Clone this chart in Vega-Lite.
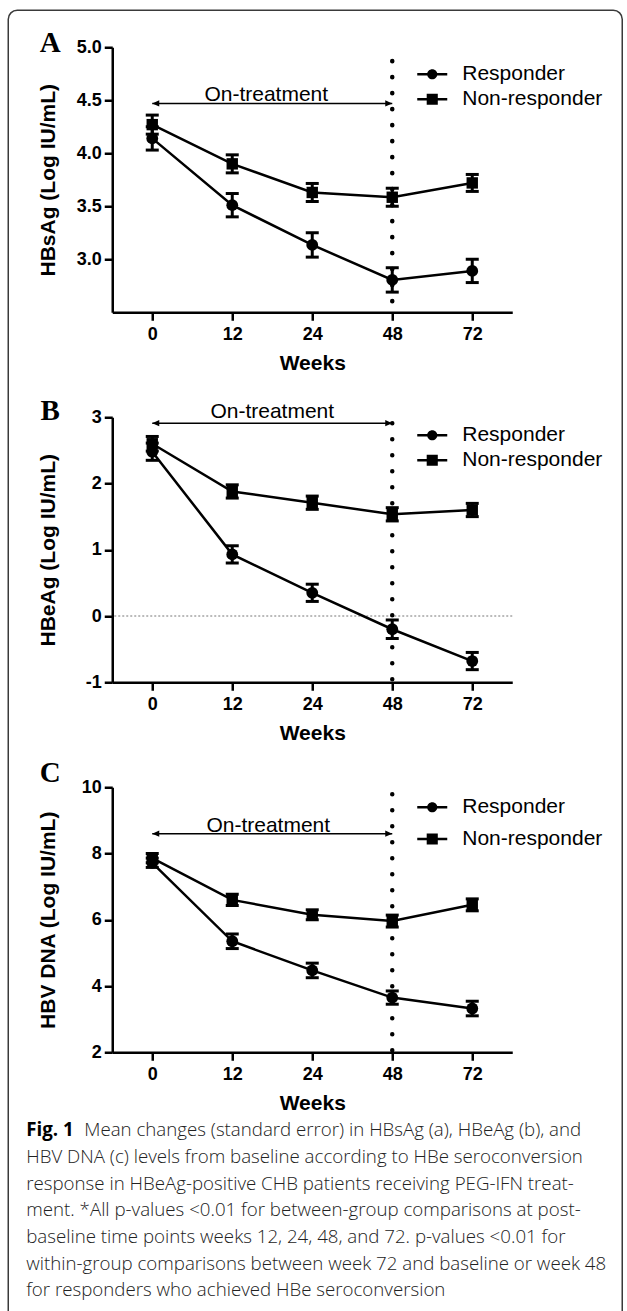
{
  "$schema": "https://vega.github.io/schema/vega-lite/v6.json",
  "padding": {"left": 7.25, "top": 9.25, "right": 0, "bottom": 0},
  "background": "white",
  "bounds": "flush",
  "spacing": 105,
  "resolve": {"scale": {"shape": "independent"}, "legend": {"shape": "independent"}},
  "datasets": {
    "A": [
      {"week": "0", "group": "Responder", "mean": 4.14, "se": 0.11},
      {"week": "12", "group": "Responder", "mean": 3.51, "se": 0.11},
      {"week": "24", "group": "Responder", "mean": 3.135, "se": 0.115},
      {"week": "48", "group": "Responder", "mean": 2.805, "se": 0.115},
      {"week": "72", "group": "Responder", "mean": 2.89, "se": 0.11},
      {"week": "0", "group": "Non-responder", "mean": 4.27, "se": 0.09},
      {"week": "12", "group": "Non-responder", "mean": 3.9, "se": 0.085},
      {"week": "24", "group": "Non-responder", "mean": 3.63, "se": 0.085},
      {"week": "48", "group": "Non-responder", "mean": 3.585, "se": 0.085},
      {"week": "72", "group": "Non-responder", "mean": 3.72, "se": 0.08}
    ],
    "B": [
      {"week": "0", "group": "Responder", "mean": 2.48, "se": 0.13},
      {"week": "12", "group": "Responder", "mean": 0.93, "se": 0.13},
      {"week": "24", "group": "Responder", "mean": 0.35, "se": 0.13},
      {"week": "48", "group": "Responder", "mean": -0.2, "se": 0.14},
      {"week": "72", "group": "Responder", "mean": -0.68, "se": 0.13},
      {"week": "0", "group": "Non-responder", "mean": 2.6, "se": 0.11},
      {"week": "12", "group": "Non-responder", "mean": 1.88, "se": 0.1},
      {"week": "24", "group": "Non-responder", "mean": 1.71, "se": 0.1},
      {"week": "48", "group": "Non-responder", "mean": 1.535, "se": 0.1},
      {"week": "72", "group": "Non-responder", "mean": 1.6, "se": 0.1}
    ],
    "C": [
      {"week": "0", "group": "Responder", "mean": 7.72, "se": 0.14},
      {"week": "12", "group": "Responder", "mean": 5.35, "se": 0.22},
      {"week": "24", "group": "Responder", "mean": 4.47, "se": 0.22},
      {"week": "48", "group": "Responder", "mean": 3.65, "se": 0.2},
      {"week": "72", "group": "Responder", "mean": 3.32, "se": 0.22},
      {"week": "0", "group": "Non-responder", "mean": 7.86, "se": 0.14},
      {"week": "12", "group": "Non-responder", "mean": 6.6, "se": 0.17},
      {"week": "24", "group": "Non-responder", "mean": 6.15, "se": 0.15},
      {"week": "48", "group": "Non-responder", "mean": 5.96, "se": 0.18},
      {"week": "72", "group": "Non-responder", "mean": 6.45, "se": 0.18}
    ],
    "note": [{"label": "On-treatment"}],
    "caption1": [{"line": 1, "seg": "Fig. 1"}],
    "caption1b": [{"line": 1, "seg": "Mean changes (standard error) in HBsAg (a), HBeAg (b), and"}],
    "caption": [
      {"line": 2, "seg": "HBV DNA (c) levels from baseline according to HBe seroconversion"},
      {"line": 3, "seg": "response in HBeAg-positive CHB patients receiving PEG-IFN treat-"},
      {"line": 4, "seg": "ment. *All p-values <0.01 for between-group comparisons at post-"},
      {"line": 5, "seg": "baseline time points weeks 12, 24, 48, and 72. p-values <0.01 for"},
      {"line": 6, "seg": "within-group comparisons between week 72 and baseline or week 48"},
      {"line": 7, "seg": "for responders who achieved HBe seroconversion"}
    ]
  },
  "vconcat": [
    {
      "width": 400,
      "height": 265,
      "layer": [
        {"data": {"name": "note"}, "mark": {"type": "text", "font": "Liberation Serif", "fontSize": 29, "fontWeight": "bold", "color": "black", "align": "center", "baseline": "alphabetic", "dx": -102, "dy": 5, "text": "A"},
         "encoding": {"x": {"datum": "0", "type": "ordinal"}, "y": {"datum": 5, "type": "quantitative"}}},
        {"data": {"name": "note"}, "mark": {"type": "rule", "color": "black", "strokeWidth": 4.5, "strokeCap": "round", "strokeDash": [0.1, 15.9]},
         "encoding": {"x": {"datum": "48", "type": "ordinal"}, "y": {"datum": 4.87, "type": "quantitative"}, "y2": {"datum": 2.5}}},
        {"data": {"name": "note"}, "mark": {"type": "rule", "color": "black", "strokeWidth": 1.5},
         "encoding": {"x": {"datum": "0", "type": "ordinal"}, "x2": {"datum": "48"}, "y": {"datum": 4.47, "type": "quantitative"}}},
        {"data": {"name": "note"}, "mark": {"type": "point", "filled": true, "opacity": 1, "color": "black", "size": 196, "shape": "M0,0L1,-0.45L1,0.45Z"},
         "encoding": {"x": {"datum": "0", "type": "ordinal"}, "y": {"datum": 4.47, "type": "quantitative"}}},
        {"data": {"name": "note"}, "mark": {"type": "point", "filled": true, "opacity": 1, "color": "black", "size": 196, "shape": "M0,0L-1,-0.45L-1,0.45Z"},
         "encoding": {"x": {"datum": "48", "type": "ordinal"}, "y": {"datum": 4.47, "type": "quantitative"}}},
        {"data": {"name": "note"}, "mark": {"type": "text", "font": "Liberation Sans", "fontSize": 21, "color": "black", "baseline": "alphabetic", "align": "center", "dx": -46, "dy": -2},
         "encoding": {"x": {"datum": "24", "type": "ordinal"}, "y": {"datum": 4.47, "type": "quantitative"}, "text": {"field": "label"}}},
        {
          "data": {"name": "A"},
          "encoding": {
            "x": {"field": "week", "type": "ordinal", "scale": {"type": "point", "domain": ["0", "12", "24", "48", "72"], "padding": 0.5}, "axis": {"title": "Weeks", "labelAngle": 0}},
            "y": {"field": "mean", "type": "quantitative", "scale": {"domain": [2.5, 5], "nice": false, "zero": false}, "axis": {"values": [3, 3.5, 4, 4.5, 5], "format": ".1f", "title": "HBsAg (Log IU/mL)"}}
          },
          "layer": [
            {"mark": {"type": "errorbar", "color": "black", "thickness": 3, "rule": {"opacity": 1, "color": "black"}, "ticks": {"size": 13, "thickness": 3, "color": "black", "opacity": 1}}, "encoding": {"yError": {"field": "se"}}},
            {"mark": {"type": "line", "color": "black", "strokeWidth": 2.5}, "encoding": {"detail": {"field": "group"}}},
            {"transform": [{"filter": "datum.group === 'Responder'"}], "mark": {"type": "point", "filled": true, "opacity": 1, "color": "black", "size": 140, "shape": "circle"}},
            {"transform": [{"filter": "datum.group === 'Non-responder'"}], "mark": {"type": "point", "filled": true, "opacity": 1, "color": "black", "size": 130, "shape": "square"}},
            {"transform": [{"filter": "false"}], "mark": {"type": "point", "filled": true, "color": "black", "opacity": 1},
             "encoding": {"shape": {"field": "group", "type": "nominal", "scale": {"domain": ["Responder", "Non-responder"], "range": ["M-1,-0.085H1V0.085H-1ZM0.34,0A0.34,0.34,0,1,1,-0.34,0A0.34,0.34,0,1,1,0.34,0Z", "M-1,-0.085H1V0.085H-1ZM-0.37,-0.37H0.37V0.37H-0.37Z"]},
               "legend": {"title": null, "orient": "none", "legendX": 305, "legendY": 12, "symbolSize": 900, "symbolFillColor": "black", "symbolStrokeWidth": 0, "labelOffset": 15, "rowPadding": 0, "padding": 0, "labelFont": "Liberation Sans", "labelFontSize": 21, "labelColor": "black"}}}}
          ]
        }
      ]
    },
    {
      "width": 400,
      "height": 265,
      "layer": [
        {"data": {"name": "note"}, "mark": {"type": "text", "font": "Liberation Serif", "fontSize": 29, "fontWeight": "bold", "color": "black", "align": "center", "baseline": "alphabetic", "dx": -102, "dy": 3, "text": "B"},
         "encoding": {"x": {"datum": "0", "type": "ordinal"}, "y": {"datum": 3, "type": "quantitative"}}},
        {"data": {"name": "note"}, "mark": {"type": "rule", "color": "#777777", "strokeWidth": 1, "strokeDash": [2, 2]},
         "encoding": {"y": {"datum": 0, "type": "quantitative"}}},
        {"data": {"name": "note"}, "mark": {"type": "rule", "color": "black", "strokeWidth": 4.5, "strokeCap": "round", "strokeDash": [0.1, 15.9]},
         "encoding": {"x": {"datum": "48", "type": "ordinal"}, "y": {"datum": 2.91, "type": "quantitative"}, "y2": {"datum": -1}}},
        {"data": {"name": "note"}, "mark": {"type": "rule", "color": "black", "strokeWidth": 1.5},
         "encoding": {"x": {"datum": "0", "type": "ordinal"}, "x2": {"datum": "48"}, "y": {"datum": 2.91, "type": "quantitative"}}},
        {"data": {"name": "note"}, "mark": {"type": "point", "filled": true, "opacity": 1, "color": "black", "size": 196, "shape": "M0,0L1,-0.45L1,0.45Z"},
         "encoding": {"x": {"datum": "0", "type": "ordinal"}, "y": {"datum": 2.91, "type": "quantitative"}}},
        {"data": {"name": "note"}, "mark": {"type": "point", "filled": true, "opacity": 1, "color": "black", "size": 196, "shape": "M0,0L-1,-0.45L-1,0.45Z"},
         "encoding": {"x": {"datum": "48", "type": "ordinal"}, "y": {"datum": 2.91, "type": "quantitative"}}},
        {"data": {"name": "note"}, "mark": {"type": "text", "font": "Liberation Sans", "fontSize": 21, "color": "black", "baseline": "alphabetic", "align": "center", "dx": -40, "dy": -5},
         "encoding": {"x": {"datum": "24", "type": "ordinal"}, "y": {"datum": 2.91, "type": "quantitative"}, "text": {"field": "label"}}},
        {
          "data": {"name": "B"},
          "encoding": {
            "x": {"field": "week", "type": "ordinal", "scale": {"type": "point", "domain": ["0", "12", "24", "48", "72"], "padding": 0.5}, "axis": {"title": "Weeks", "labelAngle": 0}},
            "y": {"field": "mean", "type": "quantitative", "scale": {"domain": [-1, 3], "nice": false, "zero": false}, "axis": {"values": [-1, 0, 1, 2, 3], "labelExpr": "'' + datum.value", "title": "HBeAg (Log IU/mL)"}}
          },
          "layer": [
            {"mark": {"type": "errorbar", "color": "black", "thickness": 3, "rule": {"opacity": 1, "color": "black"}, "ticks": {"size": 13, "thickness": 3, "color": "black", "opacity": 1}}, "encoding": {"yError": {"field": "se"}}},
            {"mark": {"type": "line", "color": "black", "strokeWidth": 2.5}, "encoding": {"detail": {"field": "group"}}},
            {"transform": [{"filter": "datum.group === 'Responder'"}], "mark": {"type": "point", "filled": true, "opacity": 1, "color": "black", "size": 140, "shape": "circle"}},
            {"transform": [{"filter": "datum.group === 'Non-responder'"}], "mark": {"type": "point", "filled": true, "opacity": 1, "color": "black", "size": 130, "shape": "square"}},
            {"transform": [{"filter": "false"}], "mark": {"type": "point", "filled": true, "color": "black", "opacity": 1},
             "encoding": {"shape": {"field": "group", "type": "nominal", "scale": {"domain": ["Responder", "Non-responder"], "range": ["M-1,-0.085H1V0.085H-1ZM0.34,0A0.34,0.34,0,1,1,-0.34,0A0.34,0.34,0,1,1,0.34,0Z", "M-1,-0.085H1V0.085H-1ZM-0.37,-0.37H0.37V0.37H-0.37Z"]},
               "legend": {"title": null, "orient": "none", "legendX": 305, "legendY": 3, "symbolSize": 900, "symbolFillColor": "black", "symbolStrokeWidth": 0, "labelOffset": 15, "rowPadding": 0, "padding": 0, "labelFont": "Liberation Sans", "labelFontSize": 21, "labelColor": "black"}}}}
          ]
        }
      ]
    },
    {
      "width": 400,
      "height": 265,
      "layer": [
        {"data": {"name": "note"}, "mark": {"type": "text", "font": "Liberation Serif", "fontSize": 29, "fontWeight": "bold", "color": "black", "align": "center", "baseline": "alphabetic", "dx": -102, "dy": -5, "text": "C"},
         "encoding": {"x": {"datum": "0", "type": "ordinal"}, "y": {"datum": 10, "type": "quantitative"}}},
        {"data": {"name": "note"}, "mark": {"type": "rule", "color": "black", "strokeWidth": 4.5, "strokeCap": "round", "strokeDash": [0.1, 15.9]},
         "encoding": {"x": {"datum": "48", "type": "ordinal"}, "y": {"datum": 9.79, "type": "quantitative"}, "y2": {"datum": 2}}},
        {"data": {"name": "note"}, "mark": {"type": "rule", "color": "black", "strokeWidth": 1.5},
         "encoding": {"x": {"datum": "0", "type": "ordinal"}, "x2": {"datum": "48"}, "y": {"datum": 8.6, "type": "quantitative"}}},
        {"data": {"name": "note"}, "mark": {"type": "point", "filled": true, "opacity": 1, "color": "black", "size": 196, "shape": "M0,0L1,-0.45L1,0.45Z"},
         "encoding": {"x": {"datum": "0", "type": "ordinal"}, "y": {"datum": 8.6, "type": "quantitative"}}},
        {"data": {"name": "note"}, "mark": {"type": "point", "filled": true, "opacity": 1, "color": "black", "size": 196, "shape": "M0,0L-1,-0.45L-1,0.45Z"},
         "encoding": {"x": {"datum": "48", "type": "ordinal"}, "y": {"datum": 8.6, "type": "quantitative"}}},
        {"data": {"name": "note"}, "mark": {"type": "text", "font": "Liberation Sans", "fontSize": 21, "color": "black", "baseline": "alphabetic", "align": "center", "dx": -44, "dy": -2},
         "encoding": {"x": {"datum": "24", "type": "ordinal"}, "y": {"datum": 8.6, "type": "quantitative"}, "text": {"field": "label"}}},
        {
          "data": {"name": "C"},
          "encoding": {
            "x": {"field": "week", "type": "ordinal", "scale": {"type": "point", "domain": ["0", "12", "24", "48", "72"], "padding": 0.5}, "axis": {"title": "Weeks", "labelAngle": 0}},
            "y": {"field": "mean", "type": "quantitative", "scale": {"domain": [2, 10], "nice": false, "zero": false}, "axis": {"values": [2, 4, 6, 8, 10], "format": "d", "title": "HBV DNA (Log IU/mL)"}}
          },
          "layer": [
            {"mark": {"type": "errorbar", "color": "black", "thickness": 3, "rule": {"opacity": 1, "color": "black"}, "ticks": {"size": 13, "thickness": 3, "color": "black", "opacity": 1}}, "encoding": {"yError": {"field": "se"}}},
            {"mark": {"type": "line", "color": "black", "strokeWidth": 2.5}, "encoding": {"detail": {"field": "group"}}},
            {"transform": [{"filter": "datum.group === 'Responder'"}], "mark": {"type": "point", "filled": true, "opacity": 1, "color": "black", "size": 140, "shape": "circle"}},
            {"transform": [{"filter": "datum.group === 'Non-responder'"}], "mark": {"type": "point", "filled": true, "opacity": 1, "color": "black", "size": 130, "shape": "square"}},
            {"transform": [{"filter": "false"}], "mark": {"type": "point", "filled": true, "color": "black", "opacity": 1},
             "encoding": {"shape": {"field": "group", "type": "nominal", "scale": {"domain": ["Responder", "Non-responder"], "range": ["M-1,-0.085H1V0.085H-1ZM0.34,0A0.34,0.34,0,1,1,-0.34,0A0.34,0.34,0,1,1,0.34,0Z", "M-1,-0.085H1V0.085H-1ZM-0.37,-0.37H0.37V0.37H-0.37Z"]},
               "legend": {"title": null, "orient": "none", "legendX": 305, "legendY": 5, "symbolSize": 900, "symbolFillColor": "black", "symbolStrokeWidth": 0, "labelOffset": 15, "rowPadding": 6.7, "padding": 0, "labelFont": "Liberation Sans", "labelFontSize": 21, "labelColor": "black"}}}}
          ]
        }
      ]
    },
    {
      "width": 580,
      "height": 160,
      "resolve": {"scale": {"y": "independent"}},
      "layer": [
        {"data": {"name": "note"}, "mark": {"type": "rect", "fill": "transparent", "stroke": "#3a3a3a", "strokeWidth": 1.5, "cornerRadius": 9},
         "encoding": {"x": {"datum": -0.1793, "type": "quantitative", "scale": {"domain": [0, 1]}, "axis": null}, "x2": {"datum": 0.8793}, "y": {"datum": 8.16875, "type": "quantitative", "scale": {"domain": [0, 1]}, "axis": null}, "y2": {"datum": -0.15}}},
        {"data": {"name": "caption1"}, "mark": {"type": "text", "align": "left", "baseline": "alphabetic", "font": "Open Sans", "fontWeight": "bold", "fontSize": 18.7, "color": "black", "dx": -86, "dy": -21},
         "encoding": {"x": {"datum": 0, "type": "quantitative", "scale": {"domain": [0, 1]}, "axis": null}, "y": {"field": "line", "type": "ordinal", "scale": {"type": "point", "domain": [1, 2, 3, 4, 5, 6, 7], "padding": 0}, "axis": null}, "text": {"field": "seg"}}},
        {"data": {"name": "caption1b"}, "mark": {"type": "text", "align": "left", "baseline": "alphabetic", "font": "Open Sans", "fontWeight": 300, "fontSize": 18.7, "color": "#222222", "dx": -28, "dy": -21},
         "encoding": {"x": {"datum": 0, "type": "quantitative", "scale": {"domain": [0, 1]}, "axis": null}, "y": {"field": "line", "type": "ordinal", "scale": {"type": "point", "domain": [1, 2, 3, 4, 5, 6, 7], "padding": 0}, "axis": null}, "text": {"field": "seg"}}},
        {"data": {"name": "caption"}, "mark": {"type": "text", "align": "left", "baseline": "alphabetic", "font": "Open Sans", "fontWeight": 300, "fontSize": 18.7, "color": "#222222", "dx": -86, "dy": -21},
         "encoding": {"x": {"datum": 0, "type": "quantitative", "scale": {"domain": [0, 1]}, "axis": null}, "y": {"field": "line", "type": "ordinal", "scale": {"type": "point", "domain": [1, 2, 3, 4, 5, 6, 7], "padding": 0}, "axis": null}, "text": {"field": "seg"}}}
      ]
    }
  ],
  "config": {
    "view": {"stroke": null},
    "font": "Liberation Sans",
    "axis": {"grid": false, "domainColor": "black", "domainWidth": 2.5, "tickColor": "black", "tickWidth": 2.5, "tickSize": 8, "labelFont": "Liberation Sans", "labelFontWeight": "bold", "labelFontSize": 18, "labelColor": "black", "titleFont": "Liberation Sans", "titleFontWeight": "bold", "titleFontSize": 21, "titleColor": "black"},
    "axisX": {"labelPadding": 5, "labelAlign": "center", "labelBaseline": "top", "labelOffset": 0, "titlePadding": 9},
    "axisY": {"labelPadding": 3, "titleX": -64, "titleBaseline": "middle"}
  }
}
